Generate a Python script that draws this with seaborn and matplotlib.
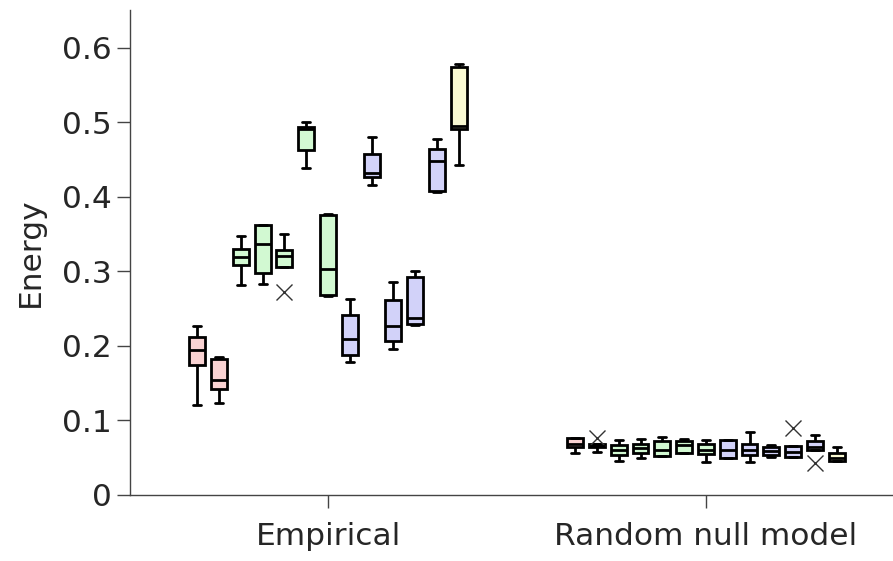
import numpy as np
import pandas as pd
import matplotlib
matplotlib.use("Agg")
import matplotlib.pyplot as plt
import seaborn as sns

# Groups and box colours (2 red, 5 green, 5 blue, 1 yellow per group)
groups = ["Empirical", "Random null model"]
box_names = [f"b{i}" for i in range(13)]
box_colors = ["#ffcccc"] * 2 + ["#ccffcc"] * 5 + ["#ccccff"] * 5 + ["#ffffcc"]

# Five-number summaries (whisker low, q1, median, q3, whisker high)
emp_low = [0.121, 0.124, 0.282, 0.283, 0.306, 0.438, 0.267, 0.178, 0.416, 0.196, 0.228, 0.406, 0.443]
emp_q1 = [0.175, 0.142, 0.309, 0.298, 0.306, 0.463, 0.268, 0.188, 0.426, 0.206, 0.229, 0.408, 0.491]
emp_med = [0.195, 0.154, 0.319, 0.337, 0.321, 0.491, 0.303, 0.209, 0.432, 0.227, 0.238, 0.448, 0.495]
emp_q3 = [0.212, 0.183, 0.330, 0.362, 0.329, 0.494, 0.375, 0.241, 0.457, 0.262, 0.292, 0.464, 0.574]
emp_high = [0.227, 0.185, 0.347, 0.362, 0.350, 0.500, 0.377, 0.263, 0.480, 0.286, 0.301, 0.478, 0.578]

rnd_low = [0.057, 0.058, 0.046, 0.050, 0.052, 0.056, 0.044, 0.050, 0.044, 0.051, 0.051, 0.060, 0.045]
rnd_q1 = [0.065, 0.064, 0.054, 0.056, 0.052, 0.057, 0.055, 0.050, 0.053, 0.054, 0.051, 0.060, 0.045]
rnd_med = [0.069, 0.066, 0.060, 0.063, 0.061, 0.067, 0.061, 0.061, 0.060, 0.059, 0.058, 0.065, 0.050]
rnd_q3 = [0.076, 0.068, 0.067, 0.069, 0.073, 0.072, 0.069, 0.074, 0.069, 0.065, 0.066, 0.072, 0.057]
rnd_high = [0.076, 0.068, 0.074, 0.075, 0.078, 0.075, 0.074, 0.074, 0.084, 0.067, 0.066, 0.081, 0.064]

# Outliers: group, box index, value
out_group = ["Empirical", "Random null model", "Random null model", "Random null model"]
out_box = [4, 1, 10, 11]
out_val = [0.272, 0.077, 0.0895, 0.0425]

yticks = [0, 0.1, 0.2, 0.3, 0.4, 0.5, 0.6]
ytick_labels = ["0", "0.1", "0.2", "0.3", "0.4", "0.5", "0.6"]

# Long-form table
rows = []
summaries = {
    "Empirical": [emp_low, emp_q1, emp_med, emp_q3, emp_high],
    "Random null model": [rnd_low, rnd_q1, rnd_med, rnd_q3, rnd_high],
}
for g in groups:
    for i, name in enumerate(box_names):
        for stat in summaries[g]:
            rows.append({"group": g, "box": name, "energy": stat[i]})
df = pd.DataFrame(rows)

sns.set_style("ticks")
plt.rcParams["font.family"] = ["DejaVu Sans"]

fig, ax = plt.subplots(figsize=(8.93, 5.61), dpi=100)
fig.subplots_adjust(left=130 / 893, right=1.0, bottom=66 / 561, top=551 / 561)

sns.boxplot(data=df, x="group", y="energy", hue="box", order=groups,
            hue_order=box_names, palette=box_colors, width=0.75, gap=0.27,
            whis=(0, 100), linecolor="black", linewidth=2.0, legend=False, ax=ax)

# outliers placed on the centre of their box
for g, b, v in zip(out_group, out_box, out_val):
    med = ax.containers[b].medians[groups.index(g)]
    xc = np.mean(med.get_xdata())
    ax.plot(xc, v, marker="x", color="#333333", markersize=11, markeredgewidth=1.0)

ax.set_xlim(-0.524, 1.495)
ax.set_ylim(0, 0.6506)
ax.set_yticks(yticks)
ax.set_yticklabels(ytick_labels)
ax.set_xlabel("")
ax.set_ylabel("Energy", fontsize=22.5, color="#262626", labelpad=12)
ax.tick_params(axis="both", labelsize=22.5, length=9.4, width=1.0, color="#444444",
               labelcolor="#262626")
ax.tick_params(axis="x", pad=10)
ax.tick_params(axis="y", pad=4)
for s in ["left", "bottom"]:
    ax.spines[s].set_color("#444444")
    ax.spines[s].set_linewidth(1.0)
sns.despine(ax=ax)

fig.savefig("out.png", dpi=100)
